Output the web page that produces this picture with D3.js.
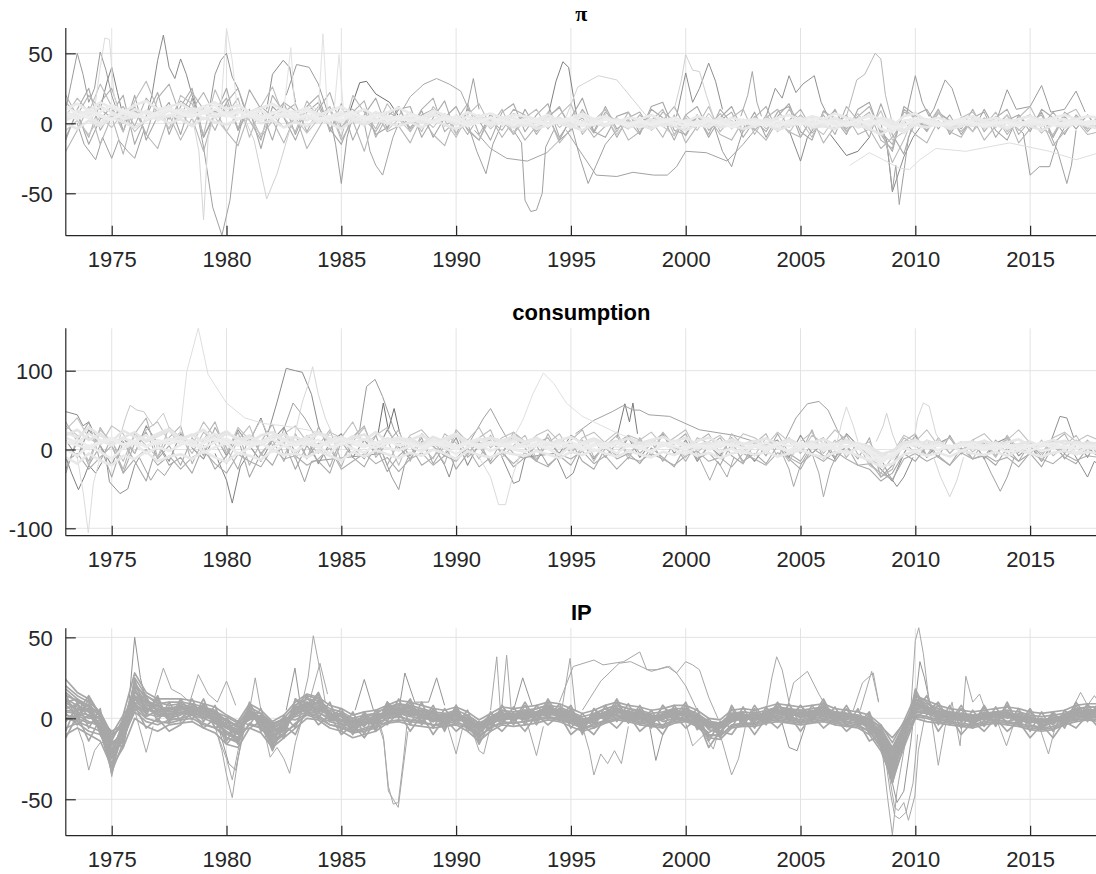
<!DOCTYPE html>
<html><head><meta charset="utf-8">
<script src="https://cdn.jsdelivr.net/npm/d3@7"></script>
<style>body{margin:0;background:#fff}svg{display:block}</style>
</head><body><svg id="chart" width="1096" height="874"></svg>
<script>
// ---------------- DATA ----------------
const xTickYears = [1975,1980,1985,1990,1995,2000,2005,2010,2015];
const piTicks = [-50,0,50];
const consTicks = [-100,0,100];
const ipTicks = [-50,0,50];
const panelTitles = ["π","consumption","IP"];
// band series: half-yearly values starting 1973.0
const bandStart = 1973, bandStep = 0.5;

const piBand = [
[8,5,10,6,3,7,4,9,6,5, 10,7,12,6,8,3,6,9,4,5, 3,6,2,5,8,4,1,6,3,5, 2,4,7,3,1,5,2,-1,3,4, 1,-2,3,0,2,5,1,-1,2,0, -3,1,3,-1,2,0,-2,3,1,-1, 2,0,-3,1,4,-1,2,1,-2,3, 5,-4,-6,2,3,0,-2,1,3,-1, 0,2,-3,1,0,-2,2,3,-1,1, 2],
[3,9,6,12,8,4,10,7,5,9, 6,11,8,4,7,10,5,3,8,6, 5,2,7,4,1,6,3,8,5,2, 4,1,6,3,-1,2,5,0,3,1, -2,2,0,4,-1,1,3,-2,2,-1, 0,3,-2,1,-3,2,0,4,-1,1, -2,3,1,-1,2,-3,1,4,0,-2, -3,4,2,-5,1,3,-1,2,0,-2, 1,-1,3,0,-2,2,-1,1,3,0, -1],
[12,7,4,8,13,9,6,3,8,11, 7,4,9,13,5,8,6,2,7,10, 6,9,4,2,5,8,3,6,2,4, 6,3,0,4,2,-2,1,4,2,-1, 3,1,-2,2,4,0,-1,3,1,-2, 2,-1,1,3,0,-2,2,1,-3,0, 1,-2,2,0,-1,3,1,-2,0,2, -1,2,-3,-2,4,1,-2,0,2,1, -2,0,1,-2,3,1,-1,0,2,-1, 0],
[0,-4,2,-2,4,1,-3,2,5,0, 3,-2,4,1,-1,3,6,0,2,-3, 1,-2,3,0,-4,2,-1,3,0,-2, 1,-3,2,-1,-4,0,2,-2,1,-3, 0,-4,-1,2,-2,-5,0,-2,1,-3, -1,-4,0,-2,-5,-1,1,-3,-1,-4, -2,0,-5,-2,1,-3,-2,-4,0,-1, -4,-8,-3,-6,-1,-3,0,-4,-2,1, -3,-1,-4,0,-2,-5,-1,-3,0,-2, -4],
[10,14,9,15,11,8,13,16,10,12, 14,9,12,15,10,13,8,11,14,9, 8,11,6,9,12,7,10,5,8,11, 7,4,9,6,3,8,5,7,4,6, 5,3,6,2,4,7,3,5,1,4, 3,6,2,4,1,5,3,0,4,2, 3,1,4,6,2,5,3,7,4,2, 6,3,-2,5,7,2,4,1,3,5, 2,4,1,3,5,2,4,6,3,5, 4],
[-5,2,-8,5,-3,8,-6,3,10,-4, 7,-2,12,4,-6,9,2,-8,6,-3, 4,-7,3,10,-4,6,-2,8,-5,3, -6,5,-3,7,-8,2,6,-4,3,-7, 2,-5,8,-3,4,-6,1,5,-8,3, -4,6,-2,-9,4,-5,7,-3,2,-6, 5,-4,3,-7,6,-2,-8,4,-3,7, -5,9,-12,-6,5,-3,8,-4,2,-6, 4,-3,6,-5,2,-7,3,-2,5,-4, 2],
[15,6,20,10,4,12,-2,18,8,3, 16,10,22,6,14,-3,8,12,5,15, 9,2,12,-4,7,10,3,-6,8,4, -3,6,10,-2,4,-8,5,2,-5,7, 3,-6,5,11,-2,4,-7,8,1,-4, 6,-3,8,2,-9,5,-2,7,-4,3, -5,4,10,-3,6,-7,2,9,-4,5, 12,-6,-15,8,4,-5,7,2,-6,3, -4,5,-8,3,6,-2,8,-3,4,-6, 3],
[6,3,8,5,2,9,7,4,6,10, 8,5,7,10,6,3,8,5,4,7, 4,6,3,5,2,7,4,1,5,3, 2,4,1,3,5,0,2,4,-1,2, 0,3,-1,1,2,-2,1,3,0,-1, 1,-1,2,0,-2,1,3,-1,0,2, -1,1,-2,2,0,-1,1,2,-2,0, 2,0,-4,-1,1,2,0,-1,1,0, -1,1,0,-2,1,0,2,-1,0,1, 0],
[2,6,4,0,7,3,5,8,2,6, 4,9,3,7,5,10,4,6,3,8, 3,5,1,4,7,2,5,3,0,4, 3,0,2,5,1,-1,3,1,4,0, -1,2,4,0,-3,1,2,-1,3,0, 2,-2,0,3,1,-1,-3,2,0,1, -1,2,0,-2,3,1,-1,0,2,-3, 0,3,1,-7,0,2,1,-2,0,3, 1,-2,2,0,-1,3,0,-2,1,0, 2],
[-10,8,-15,3,12,-6,20,-12,5,15, -8,18,-10,6,25,-5,10,-18,12,4, -12,8,15,-4,-15,6,10,-8,-3,12, -6,9,-10,4,12,-5,-12,7,3,-8, 10,-4,6,-12,4,18,-6,-10,5,8, -7,12,15,-5,-8,6,-10,4,12,-6, 8,-10,5,14,-6,-12,9,3,-8,10, 15,-8,-20,12,6,-5,10,-8,4,-6, 10,-5,-12,6,-3,8,-10,5,-4,6, -5],
[20,5,-10,15,25,0,12,-8,18,28, 5,22,10,-5,15,25,2,-12,20,8, 14,-6,10,22,-3,8,16,-10,5,12, -4,10,18,-6,2,14,-8,6,-2,10, 6,-8,4,12,-5,10,-2,6,-10,4, 8,-5,2,12,-4,6,-8,10,0,-6, 4,12,-6,2,10,-4,6,-8,12,2, 8,-12,-18,10,4,-6,8,2,-4,10, -6,4,10,-8,2,6,-10,8,2,-4, 6],
[-12,10,25,-5,8,20,-15,5,22,-8, 12,25,-10,8,18,-5,24,10,-12,15, -8,12,20,-6,14,-12,6,18,-4,10, 12,-10,4,16,-8,10,2,-12,8,14, -6,6,14,-10,2,8,-6,12,-4,2, -8,10,4,-12,6,12,-5,2,8,-10, 2,-6,8,12,-10,4,-2,10,-6,4, -10,14,-8,-22,6,10,-4,6,-8,4, 8,-10,2,6,-6,10,4,-8,6,-2, 4],
[5,18,8,28,12,-6,16,30,10,-4, 20,14,-8,24,6,18,-10,12,26,4, -6,16,4,12,-10,20,8,-4,14,2, 8,-6,12,2,-10,6,14,-2,10,-8, 4,10,-4,6,14,-8,2,10,-6,8, -4,2,10,-8,6,-2,12,-6,4,10, -8,6,-4,10,2,-10,8,4,-6,2, 6,-4,-28,-12,8,-2,10,-6,4,8, -2,8,-6,4,12,-4,-8,6,10,-4, 2],
[-20,-5,12,-15,5,-22,10,-8,-18,6, -12,4,-20,10,-6,-16,8,-10,2,-14, 6,-18,-4,10,-12,2,-20,8,-6,-2, -14,4,-8,-16,6,-4,-12,4,-10,2, -12,-2,6,-14,-4,2,-10,-2,4,-12, -6,2,-10,6,-14,-2,4,-8,-12,2, -4,-12,2,-6,-10,4,-14,-2,6,-8, -4,-18,-10,2,-8,-14,2,-6,-10,4, -12,-2,6,-14,-4,2,-16,-6,2,-8, -6]
];

const piEpisodes = [
[[1973,10],[1973.25,30],[1973.5,50],[1973.75,35],[1974,15],[1974.25,25],[1974.5,51],[1974.75,38],[1975,20],[1975.25,8],[1975.5,-5]],
[[1974.25,10],[1974.5,40],[1974.7,61],[1974.9,60],[1975.1,20],[1975.35,5]],
[[1974.5,10],[1974.8,30],[1975,40],[1975.25,22],[1975.5,5]],
[[1973.5,0],[1973.8,-15],[1974.3,-26],[1974.6,-10],[1975,-25],[1975.3,-12],[1975.7,-20],[1976,-25],[1976.4,-5]],
[[1976.5,5],[1976.75,20],[1977,45],[1977.25,63],[1977.5,40],[1977.75,32],[1978,46],[1978.25,35],[1978.5,20],[1978.75,8]],
[[1978.75,5],[1979,-17],[1979.4,-60],[1979.8,-80],[1980.15,-55],[1980.44,-14],[1980.7,3]],
[[1978.5,5],[1978.8,-20],[1979,-69],[1979.2,-10],[1979.5,8]],
[[1979.75,10],[1980,68],[1980.25,45],[1980.5,5]],
[[1979.25,10],[1979.5,35],[1979.75,45],[1980,50],[1980.25,33],[1980.5,25],[1980.75,12]],
[[1980.75,5],[1981.2,-12],[1981.75,-54],[1982.2,-36],[1982.75,-5]],
[[1981.75,10],[1982,35],[1982.47,45],[1982.75,40],[1983,15]],
[[1982.5,10],[1982.8,54],[1983,5],[1983.6,12],[1984,10],[1984.2,64],[1984.4,8],[1984.7,12],[1984.9,49],[1985.1,8]],
[[1984.5,5],[1984.75,-15],[1985,-43],[1985.25,-10],[1985.5,5]],
[[1986,0],[1986.25,-20],[1986.5,-30],[1986.8,-37],[1987,-25],[1987.25,-10],[1987.5,0]],
[[1985.3,5],[1985.8,29],[1986.1,30],[1986.5,21],[1987.1,15],[1987.5,5]],
[[1987.5,5],[1988,19],[1988.6,28],[1989.15,32],[1989.7,28],[1990.2,23],[1990.6,8]],
[[1982.6,20],[1983.05,42],[1983.6,40],[1984,28],[1984.4,8]],
[[1990.4,5],[1990.75,32],[1991,10]],
[[1990.5,0],[1990.9,-20],[1991.3,-36],[1991.6,-15],[1992,0]],
[[1992.5,-5],[1992.85,-14],[1993,-55],[1993.25,-63],[1993.5,-62],[1993.75,-50],[1993.9,-17],[1994.25,-5]],
[[1990.8,-5],[1991.5,-18],[1992.2,-25],[1993.1,-27],[1993.95,-21],[1994.5,-12],[1995,-5]],
[[1994,5],[1994.35,30],[1994.65,44],[1994.9,40],[1995.1,20],[1995.3,0]],
[[1995,0],[1995.4,-25],[1995.75,-43],[1996.1,-30],[1996.5,-15],[1997,-5]],
[[1994.8,-5],[1995.4,-20],[1996.1,-37],[1997,-38],[1997.7,-35],[1998.6,-37],[1999.2,-37],[1999.6,-31],[2000,-20],[2000.9,-21],[2001.8,-27],[2002.5,-15],[2003,-5]],
[[1994.8,5],[1995.3,26],[1996.2,34],[1997,31],[1997.7,17],[1998.3,5]],
[[1999.5,10],[1999.8,30],[2000,49],[2000.3,38],[2000.6,37],[2000.9,20],[2001.2,5]],
[[1999.6,5],[2000,36],[2000.3,15],[2000.6,25],[2001,43],[2001.3,30],[2001.6,10]],
[[2001.2,0],[2001.6,-20],[2002,-31],[2002.3,-15],[2002.6,0]],
[[2002.4,5],[2002.7,20],[2002.9,37],[2003.1,15],[2003.3,5]],
[[2003.5,5],[2003.9,25],[2004.2,18],[2004.5,34],[2004.8,22],[2005.1,28],[2005.6,34],[2005.9,15],[2006.2,5]],
[[2004.5,-5],[2005,-27],[2005.3,-10],[2005.6,-3]],
[[2006.3,-8],[2007,-23],[2007.5,-20],[2008,-10]],
[[2007.15,-30],[2008,-21],[2008.6,-26],[2009.3,-32],[2009.75,-33],[2010.2,-26],[2010.9,-18],[2012.2,-20],[2014.1,-14],[2015.85,-20],[2017,-26],[2018,-21]],
[[2007,5],[2007.45,31],[2007.8,35],[2008.1,45],[2008.25,50],[2008.5,46],[2008.7,20],[2009,0]],
[[2008.5,0],[2008.8,-20],[2009,-48],[2009.15,-30],[2009.3,-58],[2009.5,-35],[2009.7,-10],[2010,0]],
[[2008.5,-3],[2008.75,-12],[2009,-49],[2009.5,-24],[2009.9,-10],[2010.2,-3]],
[[2009.6,5],[2010,34],[2010.3,15],[2010.6,5],[2010.8,10],[2011.3,31],[2011.6,25],[2012,5]],
[[2014.4,-3],[2014.7,-7],[2015,-37],[2015.4,-31],[2015.85,-31],[2016.2,-12],[2016.5,-3]],
[[2015.8,-5],[2016.2,-20],[2016.6,-43],[2016.8,-30],[2017,-5]],
[[2013.6,5],[2014,24],[2014.4,10],[2015,12],[2015.5,27],[2015.9,8],[2016.5,10],[2017,23],[2017.4,8]]
];

const consBand = [
[15,8,20,12,5,14,10,18,6,12, 16,9,13,20,11,7,15,10,18,12, 8,14,5,12,16,9,13,6,11,15, 10,4,12,8,2,9,14,6,10,3, 8,12,5,9,2,7,11,4,8,6, 3,9,5,11,7,2,6,10,4,8, 5,1,7,10,4,8,2,6,9,3, -2,-8,-12,5,8,2,6,3,7,1, 5,8,2,6,3,9,5,1,7,4, 6],
[0,-8,5,-3,-12,2,8,-5,3,-2, 6,12,-4,3,8,-6,2,10,-3,5, -2,7,3,-5,9,1,-4,6,2,-1, 4,-3,8,2,-6,3,7,-2,5,0, -3,5,1,-7,4,8,-2,3,-5,6, 2,-4,7,0,-6,3,5,-3,1,-5, 4,-2,6,-4,2,7,-1,3,-6,2, -10,-18,-5,2,-3,4,-1,5,-2,3, -1,4,-3,2,6,-2,1,4,-4,2, 0],
[22,15,28,18,10,24,16,12,20,26, 14,18,25,12,20,15,8,18,22,13, 16,10,20,14,8,17,12,22,10,15, 12,18,8,14,20,10,6,15,11,17, 9,14,6,12,16,8,13,5,10,14, 7,12,16,9,4,11,15,8,12,6, 10,14,7,11,3,9,13,6,10,8, 4,-5,-10,8,12,6,10,3,9,7, 11,6,9,13,5,8,12,7,10,6, 9],
[-10,-18,-5,-14,-20,-8,-12,-3,-15,-9, -6,-12,-2,-10,-16,-4,-8,-13,-1,-7, -5,-10,-2,-8,-14,-3,-9,-1,-6,-11, -4,-8,0,-5,-12,-2,-7,-10,-3,-6, -8,-2,-6,-11,-3,-7,0,-5,-9,-2, -6,-10,-3,-7,-1,-8,-4,-11,-5,-2, -7,-3,-9,-5,-1,-6,-10,-4,-2,-8, -14,-22,-18,-6,-3,-8,-4,-9,-2,-5, -7,-3,-8,-1,-5,-9,-4,-2,-6,-3, -5],
[8,12,4,10,15,6,11,3,9,13, 10,4,8,14,7,11,5,9,13,6, 5,9,12,3,7,11,6,2,8,10, 7,3,9,5,1,8,4,10,6,2, 4,8,1,6,10,3,7,2,9,5, 1,6,9,4,0,7,3,8,5,2, 6,2,8,4,9,1,5,7,3,6, 0,-12,-6,3,7,1,5,2,6,4, 2,6,3,0,5,8,2,4,1,5, 3],
[30,18,-20,25,10,-15,20,5,-10,28, 15,-5,22,8,-18,12,30,-8,15,20, -12,18,5,25,-15,10,28,-5,12,-20, 15,5,-12,20,8,-8,15,25,-10,5, 18,-12,8,20,-5,12,-15,10,22,-8, 12,-5,18,2,-10,15,8,-12,20,5, -8,15,5,-15,10,22,-5,12,-10,8, -20,-30,-10,15,5,-8,12,-5,10,-3, 8,-10,15,3,-6,12,-8,5,18,-4, 10],
[-25,10,35,-15,15,-30,8,22,-12,5, -20,15,-8,28,2,-25,18,-5,12,-15, 20,-10,8,-22,15,2,-12,18,-20,10, -8,15,-18,5,22,-10,3,-15,12,-5, -12,8,15,-8,-20,5,12,-10,8,18, -5,10,-15,8,20,-12,3,15,-8,-18, 10,-8,20,-5,-15,8,15,-10,5,-12, 15,-35,-20,10,-5,12,-10,18,-6,8, -10,12,-5,-15,8,-8,12,-12,5,10, -8],
[12,-10,25,5,-20,15,-5,30,8,-15, 20,2,-12,18,-8,25,5,-15,12,28, -5,15,-18,8,20,-10,12,-5,25,3, -12,10,4,-8,15,-20,8,12,-5,18, 2,-15,10,-5,18,8,-12,5,-8,15, -10,8,20,-5,12,-15,5,-8,15,2, -15,5,12,-10,18,-5,8,-12,20,5, -8,-25,-40,-5,18,-10,8,15,-5,12, -12,8,15,-8,5,-15,10,-5,12,-10, 15],
[10,5,2,8,13,6,9,4,12,7, 11,6,3,9,14,5,10,7,2,11, 6,10,4,8,13,7,3,9,12,5, 8,2,6,11,4,9,1,7,5,10, 3,7,10,2,6,-1,5,8,3,6, 2,-2,5,9,3,6,0,4,8,1, 5,9,2,-1,6,3,8,0,4,7, -5,-15,-8,4,9,3,6,1,5,8, 3,0,6,4,-2,5,8,2,6,3, 5],
[18,25,12,20,8,15,22,10,17,24, 12,19,9,16,23,11,18,6,14,20, 9,16,22,12,5,15,19,8,14,11, 13,7,16,10,18,5,12,15,8,13, 10,15,6,12,3,9,14,7,11,4, 8,12,5,10,15,6,9,3,13,7, 11,4,8,13,6,10,2,7,12,5, 1,-6,-2,9,4,11,7,2,8,10, 5,9,3,7,10,4,8,11,6,9, 7],
[35,10,-15,28,5,-25,20,40,-10,15, 30,-18,12,35,-5,22,-20,10,32,-8, 18,-12,28,5,-22,15,30,-10,8,25, -15,20,5,-18,25,10,-12,18,-5,22, 10,-15,20,-8,12,25,-10,5,18,-12, 15,-8,22,5,-15,10,20,-5,12,-18, 8,20,-10,15,-5,25,-12,8,18,-6, -15,-35,-25,10,20,-8,15,-5,10,-12, 12,-8,18,-4,10,-15,8,20,-6,12, -5],
[-30,15,-20,5,-35,10,-15,-40,8,-20, -10,-30,5,-25,-8,15,-35,-5,-20,10, -25,5,-15,-30,10,-10,-22,5,-28,-8, 5,-20,-10,8,-25,-5,10,-18,-2,-22, -10,5,-20,-8,10,-15,-25,2,-12,-5, -18,2,-10,-22,5,-12,-4,-20,8,-15, -5,-18,5,-12,-25,2,-8,-15,5,-20, -25,-40,-30,-5,-15,5,-10,-20,2,-12, -8,-20,2,-15,-5,-22,5,-10,-18,2, -10],
[25,40,15,5,30,20,-5,25,35,10, 22,5,35,15,-5,28,12,38,5,20, 30,10,-5,22,15,35,5,18,28,-2, 18,25,8,-5,20,12,28,2,15,22, 5,18,25,10,-4,15,22,8,-6,18, 12,22,5,15,25,-4,10,18,2,20, 15,5,22,10,-5,18,8,25,12,2, 10,-15,-5,18,10,25,5,15,-2,12, 20,5,12,25,8,-5,15,22,10,18, 12],
[-15,-5,-25,-10,5,-30,-12,0,-20,-8, -25,-10,-2,-18,-30,-6,-15,-22,2,-12, -8,-20,-12,2,-25,-15,-5,-18,-10,-28, -12,-4,-20,-8,-15,2,-22,-10,-5,-18, -4,-15,-22,-6,-12,-2,-18,-8,-25,-10, -15,-5,-12,-20,-8,-2,-15,-10,-22,-5, -12,-20,-4,-10,-18,-6,-15,-2,-12,-20, -18,-30,-38,-12,-5,-15,-8,-20,-4,-12, -6,-15,-10,-22,-4,-12,-18,-6,-14,-8, -10]
];

const consEpisodes = [
[[1973.5,-10],[1973.76,-55],[1973.98,-106],[1974.2,-43],[1974.5,-10]],
[[1973,-10],[1973.25,-30],[1973.55,-51],[1973.8,-35],[1974,-20],[1974.3,-30],[1974.6,-15]],
[[1973,48],[1973.5,44],[1973.75,30],[1974,35],[1974.25,20],[1974.6,8]],
[[1974.75,-10],[1974.9,-41],[1975.36,-56],[1975.7,-50],[1976,-20],[1976.3,-5]],
[[1975.3,10],[1975.6,40],[1975.8,56],[1976.1,50],[1976.4,48],[1976.8,30],[1977.25,46],[1977.6,20],[1978,5]],
[[1977.6,10],[1977.97,21],[1978.27,99],[1978.77,154],[1979.2,95],[1980,59],[1980.8,40],[1981.6,33],[1982.5,30],[1983.5,25],[1984.5,18],[1985.5,10]],
[[1979.5,-5],[1980,-39],[1980.25,-68],[1980.6,-22],[1980.9,-8]],
[[1981.8,20],[1982.2,60],[1982.6,103],[1983,100],[1983.3,98],[1983.7,70],[1984,30],[1984.3,10]],
[[1982.9,10],[1983.3,60],[1983.55,82],[1983.75,105],[1984,70],[1984.3,40],[1984.6,20]],
[[1982.3,10],[1982.9,59],[1983.4,40],[1983.8,20]],
[[1985.3,10],[1985.8,25],[1986.1,80],[1986.47,89],[1986.8,67],[1987.3,25],[1987.6,10]],
[[1986.6,20],[1986.83,59],[1987.05,25],[1987.3,52],[1987.55,20]],
[[1983,-10],[1983.4,-41],[1983.7,-15],[1986.8,-5],[1987.2,-35],[1987.5,-51],[1987.75,-20],[1988,-5]],
[[1989.2,-5],[1989.5,-20],[1989.7,-35],[1989.9,-15],[1990.2,-5]],
[[1991,-10],[1991.5,-35],[1991.85,-70],[1992.15,-70],[1992.5,-30],[1992.8,-5]],
[[1992.4,10],[1992.9,37],[1993.35,71],[1993.8,97],[1994.25,84],[1994.8,59],[1995.5,42],[1997,21],[1998,10]],
[[1990.6,10],[1991.2,40],[1991.5,52],[1991.9,30],[1992.2,15]],
[[1995.2,20],[1996,37],[1996.8,48],[1997.3,56],[1997.7,50],[1998,50],[1998.4,44],[1999.3,42],[2000.6,25],[2002.1,18],[2003,10]],
[[1997,15],[1997.35,58],[1997.55,35],[1997.7,59],[1997.9,20]],
[[1992,-10],[1992.5,-43],[1992.75,-40],[1993,-10],[1994.3,-5],[1994.8,-37],[1995.1,-30],[1995.4,-5]],
[[2000.5,-5],[2001.05,-39],[2001.4,-15],[2001.8,-35],[2002.1,-10]],
[[2004.2,-5],[2004.5,-25],[2004.7,-47],[2005,-20],[2005.3,-5]],
[[2005.5,-5],[2005.8,-30],[2006,-60],[2006.3,-25],[2006.6,-5]],
[[2004.3,10],[2004.8,40],[2005.3,58],[2005.8,61],[2006.2,50],[2006.6,25],[2006.9,10]],
[[2006.6,10],[2006.8,35],[2007,54],[2007.3,30],[2007.5,10]],
[[2008.3,10],[2008.6,30],[2008.75,46],[2009,20],[2009.2,5]],
[[2008.5,-10],[2008.8,-30],[2009.2,-47],[2009.5,-35],[2009.9,-10]],
[[2009.9,5],[2010.1,40],[2010.35,59],[2010.6,55],[2010.9,20],[2011.2,5]],
[[2010.8,-10],[2011.1,-35],[2011.5,-60],[2011.8,-40],[2012.1,-10]],
[[2012.9,-5],[2013.3,-30],[2013.7,-53],[2014,-35],[2014.3,-10]],
[[2015.9,10],[2016.3,42],[2016.6,40],[2016.9,15]],
[[2016.9,-5],[2017.2,-20],[2017.5,-35],[2017.8,-15],[2018,-20]],
[[1976.2,-10],[1976.7,-39],[1977,-25],[1977.3,-33],[1977.7,-15]],
[[1981,10],[1981.5,40],[1981.8,15]]
];

const ipBand = [
[12,8,5,-4,-25,-8,20,10,8,2, 6,9,3,-2,-8,-12,5,-3,-12,-6, 6,12,9,0,-3,-6,0,-2,5,8, 6,1,-2,2,4,-4,-10,0,4,-1, 3,6,8,2,-1,-5,2,6,3,5, 0,-3,3,6,1,-3,-9,-4,2,3, -2,4,6,1,4,2,7,0,-1,2, -6,-15,-35,-12,12,8,2,4,-1,-2, 3,0,4,-1,-3,0,-4,3,5,2, 6],
[4,3,0,1,-12,-3,10,6,3,7, 3,4,6,3,-1,-5,-1,2,-5,-2, 2,6,4,5,2,0,-4,2,1,3, 2,5,3,-2,0,2,-3,-4,0,3, 0,1,3,6,3,0,-3,-2,5,1, 4,2,-2,0,5,2,-2,-8,-2,0, 3,0,2,5,0,4,1,3,2,-2, 0,-6,-18,-4,5,3,5,0,3,2, -1,4,1,3,1,-3,2,-1,2,6, 2],
[16,10,7,-6,-30,-10,22,12,4,6, 8,3,7,4,-6,-10,4,-4,-10,-8, 5,10,5,4,-2,-1,-5,3,2,6, 7,2,-1,3,-1,1,-8,-3,3,2, 5,1,6,3,2,-4,-2,2,6,4, 3,2,-1,4,2,2,-7,-9,1,-1, 2,3,3,6,1,1,5,3,-2,-3, -5,-13,-30,-10,10,7,0,3,2,-3, 0,3,0,2,-2,-3,1,-2,4,5, 5],
[0,2,-2,-5,-15,-10,12,4,9,0, 2,7,5,0,-10,-7,0,0,-14,-4, 3,7,5,3,1,-8,-3,-3,4,3, 1,0,4,-4,3,-3,-4,-2,-1,0, 0,4,7,5,0,-1,-2,4,2,1, 0,1,2,1,-2,-2,-3,-4,-2,3, -3,0,4,2,3,5,2,4,3,1, -2,-8,-22,-6,6,4,4,1,-1,0, 2,4,3,-2,0,-4,-3,2,1,3, 3],
[10,5,6,2,-20,-4,16,9,5,5, 7,4,2,3,-2,-9,3,1,-6,-3, 7,8,10,2,3,-2,1,2,4,7, 3,5,2,1,1,0,-5,-1,2,1, -1,3,4,2,-2,-1,1,3,5,2, 1,-1,0,2,4,-1,-4,-6,1,2, 2,1,5,3,2,1,4,-1,2,-1, -4,-12,-28,-9,9,5,1,1,0,-1, 2,1,3,0,0,-1,-1,0,4,4, 5],
[6,9,1,0,-22,-2,18,6,4,1, 3,8,5,-1,0,-6,1,-2,-9,-5, 2,8,6,4,-1,-5,-4,-1,3,4, 5,2,0,-1,3,-2,-7,-2,0,2, 3,4,2,5,1,-3,0,1,4,2, 3,1,2,4,1,1,-6,-5,-1,2, 1,2,3,5,1,4,3,1,0,1, -1,-9,-26,-7,7,5,2,3,2,1, -1,2,3,1,-2,-2,0,1,3,3, 4],
[18,12,4,-8,-33,-15,25,14,10,8, 9,7,5,4,-12,-15,6,-5,-16,-10, 8,14,12,4,-4,-8,-6,-4,6,9, 7,4,-2,1,5,-6,-12,-5,5,2, 4,2,7,4,0,-7,-3,4,8,6, 4,1,3,5,3,-2,-11,-10,3,2, 1,4,7,5,5,4,8,2,0,-1, -7,-18,-40,-16,14,10,4,4,1,-2, 1,3,3,2,-4,-6,-2,-1,5,7, 7],
[2,0,-3,-1,-8,-4,8,3,1,2, 4,3,1,-1,-3,-4,0,-1,-4,-1, 1,4,3,1,-1,-2,-1,1,2,3, 2,2,1,0,1,0,-3,-1,1,0, 1,2,2,3,0,-1,1,2,2,1, 0,0,1,2,2,0,-2,-3,0,1, 0,1,2,3,2,2,3,1,1,0, -1,-5,-12,-3,4,3,2,1,1,0, 1,1,2,1,0,-1,0,1,2,2, 3],
[9,7,6,-1,-17,-7,14,10,7,6, 6,5,4,2,-5,-8,3,0,-7,-5, 4,9,7,2,1,-3,-2,0,3,5, 5,4,2,1,2,-1,-6,-2,2,1, 2,3,5,4,2,-2,0,3,4,3, 2,0,1,3,3,0,-5,-6,0,1, 0,2,4,3,2,3,4,2,1,0, -3,-10,-24,-8,8,6,3,2,1,0, 1,2,2,1,-1,-2,-1,1,3,4, 4],
[-6,-3,-8,-10,-24,-12,4,-2,-4,-1, 0,2,-3,-6,-12,-14,-3,-6,-15,-9, -4,3,2,-4,-6,-9,-7,-5,0,1, -1,-2,-4,-3,-2,-5,-11,-6,-2,-3, -2,0,1,-1,-3,-6,-4,-1,1,0, -2,-3,-4,-1,0,-3,-10,-11,-4,-3, -3,-1,0,-1,-2,-1,0,-2,-3,-4, -8,-18,-34,-14,2,1,-1,-2,-3,-4, -2,-1,-2,-3,-5,-6,-5,-2,0,1, 0],
[20,14,10,4,-10,2,28,16,12,12, 12,11,9,7,2,-2,9,5,-2,2, 10,15,13,8,6,2,4,5,8,11, 10,8,6,5,7,4,-1,3,7,6, 7,8,10,9,6,3,5,8,10,8, 7,5,6,8,8,5,0,-1,5,6, 5,7,9,8,7,8,9,6,5,4, 2,-4,-15,-2,14,11,8,6,5,4, 5,6,7,6,4,3,4,5,8,9, 9],
[3,-4,2,-6,-14,0,8,1,5,-1, 0,5,0,-3,-6,-3,2,-3,-4,0, -1,3,1,-2,-4,-2,1,-3,0,2, -2,1,-1,-3,0,-2,-4,1,-1,2, -1,4,1,0,-2,-4,3,0,2,-2, 1,-2,0,2,-1,-3,-2,-6,2,-1, 2,-1,1,2,-2,0,1,-1,2,-2, -3,-7,-20,-5,3,1,-1,2,-2,1, -1,2,-2,0,1,-2,0,-1,1,2, 0],
[14,11,8,3,-10,-5,12,7,2,3, 3,2,0,4,1,-3,4,3,-3,-1, 3,5,4,-1,-1,-4,-3,-1,1,4, 3,2,0,-2,-1,-2,-4,0,3,0, 1,2,3,1,-1,-3,-1,1,2,0, -1,-2,0,1,0,-2,-4,-3,-1,0, -1,0,1,0,-1,1,2,-1,-2,-1, -4,-11,-22,-10,4,3,0,-1,-1,-2, 0,-1,1,-1,-2,-3,-2,0,2,1, 2],
[5,4,2,-3,-19,-7,13,8,6,4, 5,6,3,1,-6,-9,2,-2,-8,-4, 3,8,6,2,-1,-4,-3,0,3,4, 4,3,1,0,2,-1,-6,-2,2,1, 2,3,4,4,1,-2,0,3,4,2, 2,0,1,3,3,0,-5,-6,0,1, 0,2,4,2,2,3,4,1,1,0, -3,-10,-25,-8,8,6,3,2,1,0, 1,2,2,1,-1,-2,-1,1,3,4, 4],
[-2,6,4,-6,-28,-5,18,6,2,3, 3,6,2,0,-6,-9,1,-2,-10,-7, 3,8,5,2,-2,-3,-2,-1,5,6, 3,2,-2,1,4,-2,-9,-3,3,0, 1,4,6,3,0,-4,1,4,5,3, 1,-1,2,5,2,-1,-6,-5,2,1, -1,3,5,3,3,2,5,1,0,1, -4,-14,-30,-11,10,7,3,2,0,-2, 2,1,3,0,-2,-1,-2,2,4,3, 5],
[24,16,12,3,-12,-2,20,14,9,10, 10,9,7,5,-2,-4,7,3,-4,0, 8,12,11,6,4,0,2,3,7,9, 8,6,4,3,5,2,-3,1,5,4, 5,6,8,7,4,1,3,6,8,6, 5,3,4,6,6,3,-2,-3,3,4, 3,5,7,6,5,6,7,4,3,2, 0,-6,-20,-5,12,9,6,4,3,2, 3,4,5,4,2,1,2,3,6,7, 7],
[-10,-6,-10,-14,-30,-18,0,-5,-8,-4, -3,-2,-6,-9,-16,-18,-6,-9,-18,-12, -6,0,-1,-6,-8,-12,-10,-8,-3,-2, -4,-5,-6,-5,-4,-8,-14,-8,-4,-5, -4,-3,-1,-2,-5,-8,-6,-3,-1,-2, -4,-5,-6,-3,-2,-5,-12,-13,-6,-5, -5,-3,-2,-3,-4,-3,-2,-4,-5,-6, -10,-20,-38,-18,0,-2,-3,-4,-5,-6, -4,-3,-4,-5,-7,-8,-7,-4,-2,-1, -2],
[10,12,8,1,-16,-9,16,11,8,5, 6,7,4,2,-4,-7,4,1,-6,-3, 5,10,8,3,2,-2,-1,1,4,6, 6,5,3,2,3,0,-5,-1,3,2, 3,4,6,5,3,-1,1,4,5,4, 3,1,2,4,4,1,-4,-5,1,2, 1,3,5,4,3,4,5,3,2,1, -2,-9,-27,-9,9,7,4,3,2,1, 2,3,3,2,0,-1,0,2,4,5, 5],
[8,2,9,-8,-22,-14,9,4,12,-2, 8,2,9,-3,-9,-14,6,-6,-11,-8, 8,4,11,-1,3,-6,2,-6,8,2, 8,-2,4,-3,6,-5,-6,3,-2,4, 5,-1,8,1,3,-6,3,1,7,0, 4,-3,3,0,6,-4,-4,-9,3,-2, 4,-2,6,0,5,1,6,-2,3,-2, -5,-13,-30,-13,12,4,5,-1,3,-1, 4,-2,5,-3,1,-5,0,-3,6,1, 6],
[0,-2,-5,-8,-22,-13,6,0,-2,-3, -1,0,-4,-6,-10,-12,-4,-6,-13,-10, -3,2,0,-4,-5,-9,-8,-6,-2,-1, -2,-3,-4,-5,-3,-6,-11,-6,-3,-3, -2,-1,0,-1,-3,-6,-5,-2,0,-1, -3,-4,-5,-2,-1,-4,-10,-11,-5,-4, -4,-2,-1,-2,-3,-2,-1,-3,-4,-5, -8,-17,-32,-15,1,0,-2,-3,-4,-5, -3,-2,-3,-4,-6,-7,-6,-3,-1,0, -1],
[15,-2,12,-10,-20,-14,24,2,14,-3, 10,-1,12,-6,-4,-16,8,-8,-4,-12, 12,3,15,-2,4,-10,3,-8,10,0, 10,-4,6,-8,8,-8,-2,-8,8,-4, 8,-4,10,-2,6,-10,6,-2,10,-3, 6,-6,8,-2,8,-7,-2,-12,6,-5, 6,-4,9,-2,8,-2,10,-4,6,-5, 2,-18,-24,-18,16,2,8,-4,6,-6, 7,-5,8,-5,4,-7,3,-6,8,-2, 9],
[-8,10,-6,6,-34,2,12,14,-2,10, -2,12,-2,8,-14,-2,-4,6,-18,2, -6,14,0,10,-8,4,-10,5,-2,12, -4,10,-6,6,-4,5,-14,4,-4,7, -4,8,0,9,-6,3,-6,8,-2,9, -4,5,-6,8,-2,6,-14,-2,-6,7, -6,7,-2,9,-4,8,-2,7,-5,6, -10,-4,-36,-2,4,14,-4,8,-6,5, -5,7,-4,6,-8,4,-8,5,-2,9, -2],
[12,4,14,2,-14,-18,18,4,12,-2, 12,2,8,-6,0,-14,10,-4,-6,-12, 12,6,16,0,6,-8,4,-6,10,2, 12,-2,8,-6,8,-6,-4,-6,8,-2, 10,-2,12,0,8,-8,6,0,12,-2, 8,-4,8,0,10,-6,0,-10,8,-4, 8,-2,10,0,8,0,12,-2,8,-4, 4,-16,-20,-16,18,4,10,-2,8,-4, 8,-4,10,-4,6,-6,4,-4,10,0, 10],
[-12,2,-14,0,-30,-6,8,-6,0,-8, -4,4,-6,0,-16,-8,-6,-2,-20,-4, -10,6,-4,2,-10,-4,-12,-2,-4,4, -8,2,-10,0,-8,-2,-16,-2,-8,0, -8,2,-4,2,-10,-4,-10,0,-6,2, -8,-2,-10,2,-6,0,-18,-8,-10,0, -10,0,-6,2,-8,2,-6,0,-8,-2, -14,-10,-40,-8,0,6,-8,2,-10,-2, -8,0,-8,-2,-12,-4,-12,-2,-6,2, -6]
];

const ipEpisodes = [
[[1975.5,-5],[1975.75,10],[1976,50],[1976.25,25],[1976.5,10]],
[[1974.5,-5],[1974.75,-15],[1975,-36],[1975.25,-20],[1975.5,-5]],
[[1973.5,-5],[1973.75,-15],[1974,-32],[1974.25,-20],[1974.5,-15],[1974.75,-15],[1975,-25],[1975.3,-10]],
[[1979.5,-5],[1979.8,-20],[1980,-35],[1980.25,-49],[1980.5,-25],[1980.8,-5]],
[[1979.6,-10],[1980,-25],[1980.25,-38],[1980.5,-20],[1980.8,0]],
[[1979.7,-8],[1980.1,-28],[1980.4,-32],[1980.7,-10]],
[[1976.7,5],[1977.25,31],[1977.6,18],[1978,15],[1978.4,10],[1978.77,27],[1979.2,15],[1979.6,10],[1980,23],[1980.4,8]],
[[1976,5],[1976.5,-21],[1976.8,-5]],
[[1981,5],[1981.25,25],[1981.5,5]],
[[1981.6,-5],[1981.9,-24],[1982.2,-18],[1982.5,-25],[1982.75,-34],[1983,-15],[1983.3,0]],
[[1982.6,5],[1982.98,31],[1983.2,10]],
[[1983.3,10],[1983.55,25],[1983.78,51],[1984,35],[1984.3,10]],
[[1983.6,10],[1984.07,34],[1984.4,15]],
[[1986.6,0],[1986.83,-11],[1987.05,-42],[1987.26,-53],[1987.48,-52],[1987.7,-26],[1987.85,-5]],
[[1986.6,-3],[1986.85,-14],[1987.05,-45],[1987.26,-50],[1987.48,-55],[1987.7,-30],[1987.9,-8]],
[[1985.6,5],[1986,24],[1986.4,5],[1987.5,5],[1987.77,28],[1988.2,10],[1988.8,10],[1989.15,25],[1989.5,8]],
[[1989.6,-3],[1990,-22],[1990.3,-5]],
[[1991.5,5],[1991.77,38],[1991.95,0],[1992.2,39],[1992.4,5]],
[[1990.6,-3],[1991,-20],[1991.2,-22],[1991.5,-5]],
[[1993.1,-3],[1993.5,-23],[1993.8,-5]],
[[1992.5,5],[1992.9,25],[1993.3,8]],
[[1994.5,10],[1995.1,32],[1996,36],[1996.4,33],[1997.3,35],[1998,41],[1998.3,30],[1998.75,30],[1999.3,32],[1999.6,28],[2000,35],[2000.3,33],[2000.6,30],[2001,13],[2001.4,0]],
[[1995.5,5],[1996.3,23],[1997.1,34],[1997.6,35],[1998.5,29],[1999.2,32],[1999.6,28],[2000,20],[2000.5,5]],
[[1995.5,-5],[1995.8,-20],[1996,-35],[1996.3,-22],[1996.6,-28],[1996.9,-20],[1997.2,-28],[1997.5,-5]],
[[1994.6,5],[1994.96,37],[1995.2,5]],
[[1998.4,-3],[1998.7,-26],[1999,-10]],
[[2000,-3],[2000.3,-17],[2000.8,-10],[2001.2,-19],[2001.5,-5]],
[[2001.4,-5],[2001.7,-20],[2002,-35],[2002.3,-25],[2002.6,-5]],
[[2003.5,5],[2003.75,25],[2003.96,38],[2004.2,30],[2004.5,10]],
[[2004.4,5],[2004.7,22],[2005.3,29],[2005.8,15],[2006.2,5]],
[[2004.2,-3],[2004.5,-18],[2004.85,-20],[2005.2,-5]],
[[2007.3,5],[2007.7,22],[2008.17,28],[2008.4,10]],
[[2008.3,-5],[2008.6,-25],[2008.8,-50],[2009,-72],[2009.2,-45],[2009.5,-20],[2009.8,5],[2010,48],[2010.15,56],[2010.35,40],[2010.6,10],[2010.9,5]],
[[2008.5,-10],[2008.8,-30],[2009.1,-55],[2009.26,-57],[2009.5,-52],[2009.7,-63],[2009.98,-48],[2010.13,-20],[2010.4,0]],
[[2008.6,-15],[2008.9,-45],[2009.1,-60],[2009.3,-62],[2009.6,-58],[2009.9,-40],[2010.1,-10]],
[[2008.8,-20],[2009,-40],[2009.2,-52],[2009.5,-45],[2009.8,-15],[2010,10],[2010.2,35],[2010.4,25],[2010.7,5]],
[[2007.6,5],[2008.1,29],[2008.4,10]],
[[2010.7,0],[2011,-29],[2011.3,-5],[2011.6,10],[2011.95,-17],[2012.2,26],[2012.5,10],[2012.8,15],[2013.1,3]],
[[2013.6,-3],[2013.97,-17],[2014.3,-3],[2015.4,-5],[2015.8,-22],[2016.1,-5]],
[[2016.8,5],[2017.2,16],[2017.5,8],[2017.8,14],[2018,10]]
];

// ---------------- STYLE / LAYOUT ----------------
const piBandGray = ["#ebebeb","#e8e8e8","#eeeeee","#e6e6e6","#eaeaea","#c4c4c4","#b2b2b2","#ededed","#e9e9e9","#a6a6a6","#b0b0b0","#a9a9a9","#bcbcbc","#b6b6b6"];
const piEpiGray = ["#9a9a9a","#dcdcdc","#7f7f7f","#9e9e9e","#8a8a8a","#a0a0a0","#d6d6d6","#e0e0e0","#959595","#d0d0d0","#8c8c8c","#e2e2e2","#9a9a9a","#a5a5a5","#6e6e6e","#a8a8a8","#9c9c9c","#a0a0a0","#a0a0a0","#a0a0a0","#a4a4a4","#808080","#a0a0a0","#a2a2a2","#d4d4d4","#d0d0d0","#8e8e8e","#9a9a9a","#a6a6a6","#909090","#8a8a8a","#7a7a7a","#dedede","#b8b8b8","#a0a0a0","#8c8c8c","#9a9a9a","#9c9c9c","#a0a0a0","#9a9a9a"];
const consBandGray = ["#e9e9e9","#ebebeb","#e6e6e6","#e8e8e8","#ededed","#bdbdbd","#ababab","#929292","#ececec","#e4e4e4","#b4b4b4","#a8a8a8","#c0c0c0","#adadad"];
const consEpiGray = ["#dcdcdc","#7f7f7f","#8a8a8a","#909090","#c8c8c8","#dedede","#808080","#8a8a8a","#d8d8d8","#a0a0a0","#9a9a9a","#6e6e6e","#9a9a9a","#8f8f8f","#dadada","#e0e0e0","#a0a0a0","#a2a2a2","#7a7a7a","#8c8c8c","#a8a8a8","#a5a5a5","#a8a8a8","#a0a0a0","#d8d8d8","#d0d0d0","#8a8a8a","#d6d6d6","#d6d6d6","#a0a0a0","#8e8e8e","#8a8a8a","#a0a0a0","#7a7a7a"];
const ipGray = "#a7a7a7";

const svg = d3.select("#chart");
const X0 = 65.8, X1 = 1099;
const x = d3.scaleLinear().domain([1973, 2018]).range([X0, X1]);
const axisColor = "#262626", gridColor = "#e3e3e3";
const fontFam = "'Liberation Sans', Arial, Helvetica, sans-serif";

const panels = [
  {title: panelTitles[0], band: piBand, epi: piEpisodes, bandGray: piBandGray, epiGray: piEpiGray, ticks: piTicks, dom: [-80.3, 68.1], top: 28, bot: 235.7, serif: true},
  {title: panelTitles[1], band: consBand, epi: consEpisodes, bandGray: consBandGray, epiGray: consEpiGray, ticks: consTicks, dom: [-109.4, 153.8], top: 328.3, bot: 535.7},
  {title: panelTitles[2], band: ipBand, epi: ipEpisodes, bandGray: null, epiGray: null, ticks: ipTicks, dom: [-72.5, 55.6], top: 628.3, bot: 835.7}
];

panels.forEach((p, pi) => {
  const y = d3.scaleLinear().domain(p.dom).range([p.bot, p.top]);
  const g = svg.append("g");
  g.selectAll(".vg").data(xTickYears).enter().append("line")
    .attr("x1", d => x(d)).attr("x2", d => x(d)).attr("y1", p.top).attr("y2", p.bot)
    .attr("stroke", gridColor).attr("stroke-width", 1);
  g.selectAll(".hg").data(p.ticks).enter().append("line")
    .attr("x1", X0).attr("x2", X1).attr("y1", d => y(d)).attr("y2", d => y(d))
    .attr("stroke", gridColor).attr("stroke-width", 1);
  const cid = "clip" + pi;
  svg.append("clipPath").attr("id", cid).append("rect")
    .attr("x", X0).attr("y", p.top - 1).attr("width", X1 - X0).attr("height", p.bot - p.top + 2);
  const items = [];
  p.band.forEach((vals, i) => {
    const col = p.bandGray ? p.bandGray[i % p.bandGray.length] : ipGray;
    const light = d3.hsl(col).l > 0.85;
    items.push({pts: vals.map((v, k) => [bandStart + k * bandStep, v]), col: col,
      w: p.bandGray ? (light ? 2.6 : 1.1) : 1.7});
  });
  p.epi.forEach((pts, i) => items.push({pts: pts, col: p.epiGray ? p.epiGray[i % p.epiGray.length] : (i % 5 === 0 ? "#939393" : ipGray), w: 1}));
  items.sort((a, b) => d3.hsl(a.col).l - d3.hsl(b.col).l);
  const line = d3.line().x(d => x(d[0])).y(d => y(d[1]));
  g.append("g").attr("clip-path", `url(#${cid})`)
    .selectAll("path").data(items).enter().append("path")
    .attr("d", d => line(d.pts)).attr("fill", "none")
    .attr("stroke", d => d.col).attr("stroke-width", d => d.w).attr("stroke-linejoin", "round");
  const fmt = d => String(d);
  const yAxis = d3.axisLeft(y).tickValues(p.ticks).tickSize(-10).tickPadding(13).tickFormat(fmt);
  const ya = g.append("g").attr("transform", `translate(${X0},0)`).call(yAxis);
  const xAxis = d3.axisBottom(x).tickValues(xTickYears).tickSize(-10).tickPadding(16).tickFormat(fmt);
  const xa = g.append("g").attr("transform", `translate(0,${p.bot})`).call(xAxis);
  [ya, xa].forEach(a => {
    a.select(".domain").attr("stroke", axisColor).attr("stroke-width", 1.2);
    a.selectAll(".tick line").attr("stroke", axisColor).attr("stroke-width", 1.2);
    a.selectAll(".tick text").attr("fill", axisColor).style("font-family", fontFam).style("font-size", "22px");
  });
  ya.select(".domain").attr("d", `M0,${p.top}V${p.bot}`);
  xa.select(".domain").attr("d", `M${X0},0H${X1}`);
  ya.selectAll(".tick text").attr("dy", "0.36em");
  g.append("text").attr("x", (X0 + X1) / 2 - 1).attr("y", p.serif ? p.top - 7.5 : p.top - 8.5)
    .attr("text-anchor", "middle").attr("fill", "#000")
    .style("font-family", p.serif ? "'Liberation Serif', 'Times New Roman', serif" : fontFam)
    .style("font-weight", "bold")
    .style("font-size", p.serif ? "22px" : "22px")
    .text(p.title);
});
</script>
</body></html>
